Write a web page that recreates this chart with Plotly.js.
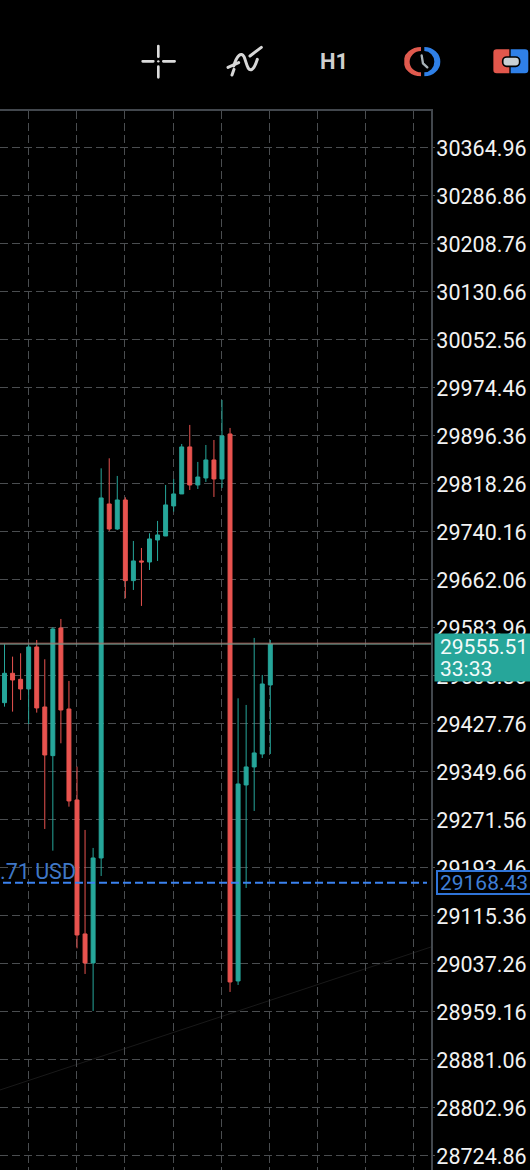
<!DOCTYPE html>
<html>
<head>
<meta charset="utf-8">
<script src="https://cdn.plot.ly/plotly-3.0.1.min.js"></script>
<style>html,body{margin:0;padding:0;background:#000;overflow:hidden}#chart{width:530px;height:1170px}</style>
</head>
<body>
<div id="chart"></div>
<script>
var barIndex = [0,1,2,3,4,5,6,7,8,9,10,11,12,13,14,15,16,17,18,19,20,21,22,23,24,25,26,27,28,29,30,31,32,33];
var openPrices = [29461.3,29509.1,29499.3,29483.6,29551.9,29454.3,29375.1,29582.8,29451.0,29303.0,29085.0,29037.8,29208.6,29784.6,29743.9,29791.1,29659.9,29691.9,29690.2,29726.0,29732.5,29781.4,29800.9,29877.4,29815.5,29826.9,29856.2,29825.3,29898.5,29008.5,29327.4,29356.7,29377.8,29490.1];
var highPrices = [29556.3,29536.2,29541.6,29555.2,29563.3,29531.9,29583.9,29597.5,29496.6,29357.2,29254.2,29224.9,29842.6,29858.9,29830.2,29795.5,29724.4,29713.0,29736.9,29757.0,29815.5,29825.3,29882.2,29913.2,29853.0,29880.6,29888.7,29953.8,29908.3,29468.4,29457.6,29566.6,29506.4,29563.3];
var lowPrices = [29454.8,29446.7,29465.7,29426.6,29445.1,29255.8,29220.5,29395.2,29292.1,29061.6,29019.9,28959.7,29179.3,29740.7,29742.3,29631.1,29644.7,29618.7,29677.2,29691.9,29732.5,29772.1,29800.9,29807.4,29809.0,29820.4,29796.0,29810.6,28990.6,29002.0,29159.8,29285.1,29371.3,29377.8];
var closePrices = [29509.1,29498.2,29483.6,29551.9,29452.7,29376.2,29581.2,29449.4,29301.4,29083.3,29037.8,29208.6,29794.4,29743.9,29791.1,29659.9,29691.9,29690.2,29727.7,29734.2,29783.0,29800.9,29877.4,29815.5,29828.5,29856.2,29825.3,29895.3,29006.9,29329.0,29356.7,29379.5,29491.7,29556.8];
var priceTicks = ["30364.96","30286.86","30208.76","30130.66","30052.56","29974.46","29896.36","29818.26","29740.16","29662.06","29583.96","29505.86","29427.76","29349.66","29271.56","29193.46","29115.36","29037.26","28959.16","28881.06","28802.96","28724.86"];
var askLevel = 29558.0, bidLevel = 29556.6;
var orderLevel = 29168.43;
var trendPrices = [28831.1, 29063.8];
var trendBars = [-0.56, 52.95];
var bidLabel = "29555.51", countdownLabel = "33:33", orderAxisLabel = "29168.43", orderLabel = ".71 USD", timeframeLabel = "H1";

var W = 530, H = 1170, L = 0, R = 431, T = 111, B = 1170;
function px(x){ return (x - L) / (R - L); }
function py(y){ return (B - y) / (B - T); }
function svgUri(vb, body){
  return 'data:image/svg+xml,' + encodeURIComponent('<svg xmlns="http://www.w3.org/2000/svg" viewBox="' + vb + '" preserveAspectRatio="none">' + body + '</svg>');
}
function icon(vb, body, x0, y0, x1, y1){
  return {source: svgUri(vb, body), xref:'paper', yref:'paper', x:px(x0), y:py(y0), sizex:px(x1)-px(x0), sizey:py(y0)-py(y1), sizing:'stretch', xanchor:'left', yanchor:'top', layer:'above'};
}
var crossBody = '<g stroke="#dcdcdc" stroke-width="8" stroke-linecap="round" fill="none"><path d="M68 94H100M130 94H164M115 48V80M115 110V142"/></g><circle cx="115" cy="94" r="3.5" fill="#dcdcdc"/>';
var waveBody = '<g stroke="#d8d8d8" stroke-width="9" stroke-linecap="round" fill="none"><path d="M35 78C45 45 58 35 66 50C74 68 76 95 90 88C98 84 102 70 106 58"/><path d="M18 82L50 68M84 48L118 22M30 105L36 88"/></g>';
var clockBody = '<path d="M903 51A52 44 0 0 0 903 139L903 127A34 32 0 0 1 903 63Z" fill="#e05a4e"/><path d="M913 51A48 44 0 0 1 913 139L913 127A30 32 0 0 0 913 63Z" fill="#2f80e8"/><path d="M905 76L909 100L922 112" fill="none" stroke="#a9b3b8" stroke-width="7" stroke-linecap="round"/>';
var linkBody = '<path d="M1130 58H1168V130H1130Q1120 130 1120 120V68Q1120 58 1130 58Z" fill="#e2574c"/><path d="M1172 58H1215Q1225 58 1225 68V120Q1225 130 1215 130H1172Z" fill="#2f80e8"/><rect x="1148" y="81" width="51" height="28" rx="12" fill="#c9d0d4" stroke="#000" stroke-width="5"/>';

var trace = {
  type:'candlestick', x:barIndex, open:openPrices, high:highPrices, low:lowPrices, close:closePrices,
  increasing:{line:{color:'#26a69a',width:1}, fillcolor:'#26a69a'},
  decreasing:{line:{color:'#e8534f',width:1}, fillcolor:'#e8534f'},
  whiskerwidth:0, hoverinfo:'skip', showlegend:false
};
var textFont = {family:'Roboto, sans-serif', size:21.5, color:'#f2f2f2'};
var layout = {
  width:W, height:H, margin:{l:L,r:W-R,t:T,b:H-B,pad:0}, paper_bgcolor:'#000', plot_bgcolor:'#000',
  showlegend:false, boxgap:0.3, boxmode:'overlay',
  xaxis:{type:'linear', range:[-0.56,52.95], side:'top', tickmode:'linear', tick0:2.98, dtick:5.98, showticklabels:false, ticks:'', rangeslider:{visible:false}, showgrid:true, gridcolor:'#4a4d50', griddash:'8px,4px', gridwidth:1, zeroline:false, showline:true, linecolor:'#42474d', linewidth:2},
  yaxis:{type:'linear', range:[28700.9,30424.0], side:'right', tickmode:'array', tickvals:priceTicks.map(Number), ticktext:priceTicks, tickfont:textFont, ticks:'outside', ticklen:2, tickcolor:'#555', tickwidth:1, ticklabelstandoff:-3, ticklabelshift:1, showgrid:true, gridcolor:'#4a4d50', griddash:'8px,4px', gridwidth:1, zeroline:false, showline:true, linecolor:'#42474d', linewidth:2},
  shapes:[
    {type:'line', layer:'below', xref:'x', yref:'y', x0:trendBars[0], x1:trendBars[1], y0:trendPrices[0], y1:trendPrices[1], line:{color:'#191919',width:1}},
    {type:'line', layer:'above', xref:'paper', yref:'y', x0:0, x1:1, y0:askLevel, y1:askLevel, line:{color:'#b9615a',width:1}},
    {type:'line', layer:'above', xref:'paper', yref:'y', x0:0, x1:1, y0:bidLevel, y1:bidLevel, line:{color:'#6f9d90',width:1}},
    {type:'line', layer:'above', xref:'paper', yref:'y', x0:px(3), x1:px(427), y0:orderLevel, y1:orderLevel, line:{color:'#3b82f0',width:2,dash:'8px,4px'}}
  ],
  annotations:[
    {xref:'paper', yref:'paper', x:px(434), y:py(633), xanchor:'left', yanchor:'top', width:96, height:47, showarrow:false, align:'left', bgcolor:'#26a69a', borderpad:0, text:' ', font:{size:10}},
    {xref:'paper', yref:'paper', x:px(439), y:py(647), xanchor:'left', yanchor:'middle', showarrow:false, borderpad:0, text:bidLabel, font:{family:'Roboto, sans-serif', size:21, color:'#f4fbfa'}},
    {xref:'paper', yref:'paper', x:px(439), y:py(669), xanchor:'left', yanchor:'middle', showarrow:false, borderpad:0, text:countdownLabel, font:{family:'Roboto, sans-serif', size:21, color:'#f4fbfa'}},
    {xref:'paper', yref:'paper', x:px(436), y:py(870), xanchor:'left', yanchor:'top', width:92, height:21, showarrow:false, align:'center', bgcolor:'#000', bordercolor:'#2f74d8', borderwidth:2, borderpad:0, text:orderAxisLabel, font:{family:'Roboto, sans-serif', size:21, color:'#3f7fd6'}},
    {xref:'paper', yref:'paper', x:px(-1), y:py(858), xanchor:'left', yanchor:'top', showarrow:false, align:'left', borderpad:0, text:orderLabel, font:{family:'Roboto, sans-serif', size:21.5, color:'#3f78c8'}},
    {xref:'paper', yref:'paper', x:px(333.5), y:py(61.5), xanchor:'center', yanchor:'middle', showarrow:false, borderpad:0, text:'<b>'+timeframeLabel+'</b>', font:{family:'Roboto, sans-serif', size:22, color:'#cfcfcf'}}
  ],
  images:[
    icon('60 40 112 110', crossBody, 140, 43.3, 177.3, 80),
    icon('0 0 150 135', waveBody, 222, 40, 272, 85),
    icon('853 48 110 92', clockBody, 404.3, 46, 441, 76.7),
    icon('1118 56 110 76', linkBody, 492.7, 48.7, 529.3, 74)
  ]
};
Plotly.newPlot('chart',[trace],layout,{displayModeBar:false,staticPlot:true});
</script>
</body>
</html>
